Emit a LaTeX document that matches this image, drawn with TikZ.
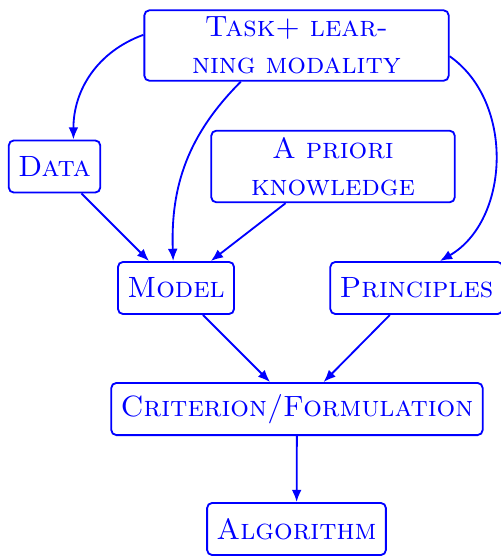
\documentclass[tikz,border=0pt]{standalone}
\usepackage{amsmath,amssymb}
\usepackage{tikz}
\usetikzlibrary{arrows.meta}

\begin{document}
\begin{tikzpicture}[
    box/.style={draw=blue, text=blue, line width=0.9pt, rounded corners=2.5pt,
        font=\Large\scshape, inner xsep=4.6pt, minimum height=0.9cm},
    arr/.style={blue, line width=0.9pt, -{Latex[length=6pt,width=4.8pt]}}
  ]
    \useasboundingbox (0,0) rectangle (8.647,9.597);

    % Boxes
    \node[box, text width=4.93cm, align=center] (task) at (5.118,8.811) {Task+ lear-\\ning modality};
    \node[box] (data) at (0.941,6.723) {Data};
    \node[box, text width=3.88cm, align=center] (prior) at (5.748,6.723) {A priori\\knowledge};
    \node[box] (model) at (3.038,4.626) {Model};
    \node[box] (princ) at (7.189,4.626) {Principles};
    \node[box] (crit) at (5.126,2.537) {Criterion/Formulation};
    \node[box] (algo) at (5.118,0.466) {Algorithm};

    % Curved arrows from the task
    \draw[arr] (task.176) to[out=200, in=90] (data.55);
    \draw[arr] (task.213) to[out=225, in=92] (model.96);
    \draw[arr] (task.-4) to[out=-35, in=30] (princ.49);

    % Straight arrows
    \draw[arr] (data) -- (model);
    \draw[arr] (prior) -- (model);
    \draw[arr] (model) -- (crit);
    \draw[arr] (princ) -- (crit);
    \draw[arr] (crit) -- (algo);
\end{tikzpicture}
\end{document}
